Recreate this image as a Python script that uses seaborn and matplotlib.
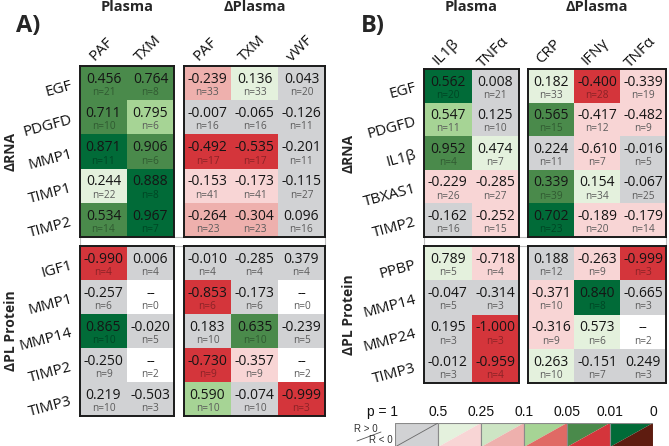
import numpy as np
import matplotlib.pyplot as plt
from matplotlib.colors import ListedColormap
from matplotlib.patches import Rectangle, Polygon
from matplotlib.lines import Line2D
import seaborn as sns

nan = np.nan

# ==========
# Datos (R, n y nivel de p leído del color)
# ==========
# columnas: Plasma (2) + ΔPlasma (3)

a_plasma_cols = ["PAF", "TXM"]
a_dplasma_cols = ["PAF", "TXM", "vWF"]
a_rna_rows = ["EGF", "PDGFD", "MMP1", "TIMP1", "TIMP2"]
a_prot_rows = ["IGF1", "MMP1", "MMP14", "TIMP2", "TIMP3"]

a_rna_r = [[0.456, 0.764, -0.239, 0.136, 0.043],
           [0.711, 0.795, -0.007, -0.065, -0.126],
           [0.871, 0.906, -0.492, -0.535, -0.201],
           [0.244, 0.888, -0.153, -0.173, -0.115],
           [0.534, 0.967, -0.264, -0.304, 0.096]]
a_rna_n = [[21, 8, 33, 33, 20],
           [10, 6, 16, 16, 11],
           [11, 6, 17, 17, 11],
           [22, 8, 41, 41, 27],
           [14, 7, 23, 23, 16]]
a_rna_lv = [[4, 4, 2, 1, 0],
            [4, 3, 0, 0, 0],
            [5, 4, 4, 4, 0],
            [1, 5, 1, 1, 0],
            [4, 5, 2, 2, 0]]

a_prot_r = [[-0.990, 0.006, -0.010, -0.285, 0.379],
            [-0.257, nan, -0.853, -0.173, nan],
            [0.865, -0.020, 0.183, 0.635, -0.239],
            [-0.250, nan, -0.730, -0.357, nan],
            [0.219, -0.503, 0.590, -0.074, -0.999]]
a_prot_n = [[4, 4, 4, 4, 4],
            [6, 0, 6, 6, 0],
            [10, 5, 10, 10, 5],
            [9, 2, 9, 9, 2],
            [10, 3, 10, 10, 3]]
a_prot_lv = [[4, 0, 0, 0, 0],
             [0, 0, 4, 0, 0],
             [5, 0, 0, 4, 0],
             [0, 0, 4, 1, 0],
             [0, 0, 3, 0, 4]]

b_plasma_cols = ["IL1β", "TNFα"]
b_dplasma_cols = ["CRP", "IFNγ", "TNFα"]
b_rna_rows = ["EGF", "PDGFD", "IL1β", "TBXAS1", "TIMP2"]
b_prot_rows = ["PPBP", "MMP14", "MMP24", "TIMP3"]

b_rna_r = [[0.562, 0.008, 0.182, -0.400, -0.339],
           [0.547, 0.125, 0.565, -0.417, -0.482],
           [0.952, 0.474, 0.224, -0.610, -0.016],
           [-0.229, -0.285, 0.339, 0.154, -0.067],
           [-0.162, -0.252, 0.702, -0.189, -0.179]]
b_rna_n = [[20, 21, 33, 28, 19],
           [11, 10, 15, 12, 9],
           [4, 7, 11, 7, 5],
           [26, 27, 39, 34, 25],
           [16, 15, 23, 20, 14]]
b_rna_lv = [[5, 0, 1, 4, 1],
            [3, 0, 4, 1, 1],
            [4, 1, 0, 1, 0],
            [1, 1, 4, 1, 0],
            [0, 1, 5, 1, 1]]

b_prot_r = [[0.789, -0.718, 0.188, -0.263, -0.999],
            [-0.047, -0.314, -0.371, 0.840, -0.665],
            [0.195, -1.000, -0.316, 0.573, nan],
            [-0.012, -0.959, 0.263, -0.151, 0.249]]
b_prot_n = [[5, 4, 12, 9, 3],
            [5, 3, 10, 8, 3],
            [3, 3, 9, 6, 2],
            [3, 4, 10, 7, 3]]
b_prot_lv = [[1, 1, 0, 1, 4],
             [0, 0, 1, 5, 0],
             [0, 4, 1, 1, 0],
             [0, 4, 1, 0, 0]]

p_ticks = ["p = 1", "0.5", "0.25", "0.1", "0.05", "0.01", "0"]

# ==========
# Colores
# ==========
GRAY = "#d1d2d4"
GREENS = ["#e4f1dd", "#cde5c4", "#a6d495", "#4a8a4b", "#016b38"]
REDS = ["#f8d5d5", "#eeb0ad", "#e06a65", "#d4353b", "#5e1c10"]
cell_cmap = ListedColormap(REDS[::-1] + [GRAY] + GREENS)

sns.set_theme(style="white")
plt.rcParams["font.family"] = ["Open Sans", "DejaVu Sans"]

W, H = 669, 446
fig = plt.figure(figsize=(W / 100, H / 100), dpi=100)


def px_ax(x0, y0, x1, y1):
    return fig.add_axes([x0 / W, 1 - y1 / H, (x1 - x0) / W, (y1 - y0) / H])


def px_text(x, y, s, **kw):
    fig.text(x / W, 1 - y / H, s, **kw)


def draw_block(ax, r, n, lv):
    r = np.array(r, dtype=float)
    n = np.array(n)
    lv = np.array(lv)
    codes = np.sign(r) * lv
    sns.heatmap(codes, mask=np.isnan(r), cmap=cell_cmap, vmin=-5.5, vmax=5.5,
                cbar=False, ax=ax, xticklabels=False, yticklabels=False)
    for i in range(r.shape[0]):
        for j in range(r.shape[1]):
            txt = "--" if np.isnan(r[i, j]) else f"{r[i, j]:.3f}"
            ax.text(j + 0.5, i + 0.39, txt, ha="center", va="center",
                    fontsize=10, color="#151515")
            ncol = (0, 0, 0, 0.35) if lv[i, j] >= 4 else "#5a5a5a"
            ax.text(j + 0.5, i + 0.78, f"n={n[i, j]}", ha="center", va="center",
                    fontsize=7.3, color=ncol)
    for s in ax.spines.values():
        s.set_visible(True)
        s.set_linewidth(1.4)
        s.set_color("#1a1a1a")


def draw_panel(label, lab_x, group_x, x_pl, x_dpl, y_rna, y_prot,
               pl_cols, dpl_cols, rna_rows, prot_rows,
               rna_r, rna_n, rna_lv, prot_r, prot_n, prot_lv):
    # banda blanca entre bloques
    fig.add_artist(Rectangle((x_pl[0] / W, 1 - y_prot[0] / H),
                             (x_dpl[1] - x_pl[0]) / W, (y_prot[0] - y_rna[1]) / H,
                             transform=fig.transFigure, facecolor="white",
                             edgecolor="#bdbdbd", lw=0.8, zorder=0))
    blocks = [(rna_rows, rna_r, rna_n, rna_lv, y_rna, True),
              (prot_rows, prot_r, prot_n, prot_lv, y_prot, False)]
    for rows, r, n, lv, ys, top in blocks:
        r = np.array(r, dtype=float)
        n = np.array(n)
        lv = np.array(lv)
        for cols, xs, sl in [(pl_cols, x_pl, slice(0, 2)), (dpl_cols, x_dpl, slice(2, 5))]:
            ax = px_ax(xs[0], ys[0], xs[1], ys[1])
            draw_block(ax, r[:, sl], n[:, sl], lv[:, sl])
            if top:
                cw = (xs[1] - xs[0]) / len(cols)
                for j, c in enumerate(cols):
                    px_text(xs[0] + cw * (j + 0.5) - 2, ys[0] - 17, c, rotation=45,
                            ha="center", va="center", fontsize=11, color="#111")
        rh = (ys[1] - ys[0]) / len(rows)
        for i, rl in enumerate(rows):
            px_text(x_pl[0] - 8, ys[0] + rh * (i + 0.5) + 2, rl, rotation=15,
                    rotation_mode="anchor", ha="right", va="center",
                    fontsize=11, color="#111")
    px_text(group_x, (y_rna[0] + y_rna[1]) / 2, "ΔRNA", rotation=90,
            ha="center", va="center", fontsize=10, fontweight="bold")
    px_text(group_x, (y_prot[0] + y_prot[1]) / 2, "ΔPL Protein", rotation=90,
            ha="center", va="center", fontsize=10, fontweight="bold")
    px_text((x_pl[0] + x_pl[1]) / 2, 7, "Plasma", ha="center", va="center",
            fontsize=10.5, fontweight="bold")
    px_text((x_dpl[0] + x_dpl[1]) / 2, 7, "ΔPlasma", ha="center", va="center",
            fontsize=10.5, fontweight="bold")
    px_text(lab_x, 26, label, ha="left", va="center", fontsize=17, fontweight="bold")


draw_panel("A)", 16, 11, (80, 174), (184, 325), (66, 237), (246, 416),
           a_plasma_cols, a_dplasma_cols, a_rna_rows, a_prot_rows,
           a_rna_r, a_rna_n, a_rna_lv, a_prot_r, a_prot_n, a_prot_lv)
draw_panel("B)", 361, 349, (424, 519), (528, 666), (69, 237), (246, 383),
           b_plasma_cols, b_dplasma_cols, b_rna_rows, b_prot_rows,
           b_rna_r, b_rna_n, b_rna_lv, b_prot_r, b_prot_n, b_prot_lv)

# ==========
# Leyenda
# ==========
lg = px_ax(395, 423, 653, 447)
lg.set_xlim(0, 6)
lg.set_ylim(0, 1)
lg.axis("off")
up = [GRAY] + GREENS
low = [GRAY] + REDS
for k in range(6):
    lg.add_patch(Polygon([(k, 0), (k, 1), (k + 1, 1)], closed=True,
                         facecolor=up[k], edgecolor="none"))
    lg.add_patch(Polygon([(k, 0), (k + 1, 0), (k + 1, 1)], closed=True,
                         facecolor=low[k], edgecolor="none"))
    lg.add_patch(Rectangle((k, 0), 1, 1, facecolor="none", edgecolor="#8a8a8a", lw=0.8))
lg.add_line(Line2D([0, 1], [0, 1], color="#666", lw=0.6))
for k, lab in enumerate(p_ticks):
    if k == 0:
        lg.text(k + 0.07, 1.15, lab, ha="right", va="bottom", fontsize=10,
                color="#111", family=["Liberation Sans"])
    else:
        lg.text(k, 1.15, lab, ha="center", va="bottom", fontsize=10,
                color="#111", family=["Liberation Sans"])

px_text(366, 429, "R > 0", ha="center", va="center", fontsize=7, color="#333",
        family=["Liberation Sans"])
px_text(381, 440, "R < 0", ha="center", va="center", fontsize=7, color="#333",
        family=["Liberation Sans"])
fig.add_artist(Line2D([357 / W, 381 / W], [1 - 441 / H, 1 - 432 / H],
                      transform=fig.transFigure, color="#555", lw=0.6))

fig.savefig("out.png", dpi=100)
